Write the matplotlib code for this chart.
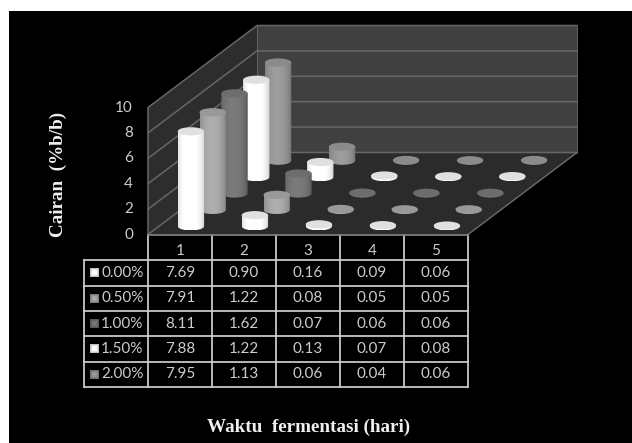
import numpy as np
import matplotlib
matplotlib.use("Agg")
import matplotlib.pyplot as plt
from matplotlib.patches import Polygon, Ellipse, Rectangle

days = ["1", "2", "3", "4", "5"]
series_names = ["0.00%", "0.50%", "1.00%", "1.50%", "2.00%"]
v000 = [7.69, 0.90, 0.16, 0.09, 0.06]
v050 = [7.91, 1.22, 0.08, 0.05, 0.05]
v100 = [8.11, 1.62, 0.07, 0.06, 0.06]
v150 = [7.88, 1.22, 0.13, 0.07, 0.08]
v200 = [7.95, 1.13, 0.06, 0.04, 0.06]
series_values = [v000, v050, v100, v150, v200]
axis_ticks = [0, 2, 4, 6, 8, 10]
series_tones = [0.97, 0.62, 0.44, 0.97, 0.56]

plt.rcParams["font.family"] = ["Lato", "DejaVu Sans"]
fig = plt.figure(figsize=(6.32, 4.43), dpi=100, facecolor="white")
ax = fig.add_axes([0, 0, 1, 1])
ax.set_xlim(0, 632)
ax.set_ylim(443, 0)
ax.axis("off")

# Oblique projection of (day, series depth, value) onto the canvas
X0, Y0 = 148.0, 234.5
CAT_DX, DEPTH_DX, DEPTH_DY = 64.0, 21.8, -16.4
UNIT, WALL_UNIT = 12.35, 12.7
RX, RY = 13.2, 4.1


def project(cat, depth, value=0.0, unit=UNIT):
    return X0 + cat * CAT_DX + depth * DEPTH_DX, Y0 + depth * DEPTH_DY - value * unit


def wall_pt(cat, depth, value=0.0):
    return project(cat, depth, value, WALL_UNIT)


ax.add_patch(Rectangle((9, 11), 623, 432, fc="black", ec="none", zorder=0))

n_cat, n_dep = len(days), len(series_names)
top = axis_ticks[-1]
ax.add_patch(Polygon([wall_pt(0, n_dep), wall_pt(n_cat, n_dep), wall_pt(n_cat, n_dep, top), wall_pt(0, n_dep, top)],
                     fc="#404040", ec="none", zorder=1))
ax.add_patch(Polygon([wall_pt(0, 0), wall_pt(0, n_dep), wall_pt(0, n_dep, top), wall_pt(0, 0, top)],
                     fc="#2d2d2d", ec="none", zorder=1))
ax.add_patch(Polygon([wall_pt(0, 0), wall_pt(n_cat, 0), wall_pt(n_cat, n_dep), wall_pt(0, n_dep)],
                     fc="#2b2b2b", ec="none", zorder=1))

grid_col = "#666666"
GRID_LW = 1.1
for t in axis_ticks:
    pts = [wall_pt(0, 0, t), wall_pt(0, n_dep, t), wall_pt(n_cat, n_dep, t)]
    ax.plot(*zip(*pts), color=grid_col, lw=GRID_LW, zorder=2)
ax.plot(*zip(wall_pt(0, 0), wall_pt(0, 0, top)), color=grid_col, lw=GRID_LW, zorder=2)
ax.plot(*zip(wall_pt(0, n_dep), wall_pt(0, n_dep, top)), color=grid_col, lw=GRID_LW * 0.6, zorder=2)
ax.plot(*zip(wall_pt(n_cat, n_dep), wall_pt(n_cat, n_dep, top)), color=grid_col, lw=GRID_LW * 0.6, zorder=2)
ax.plot(*zip(wall_pt(n_cat, 0), wall_pt(n_cat, n_dep)), color=grid_col, lw=GRID_LW, zorder=2)

# Horizontal shading across each cylinder body
u = np.linspace(0, 1, 64)
profile = 0.66 + 0.34 * np.clip(1 - ((u - 0.45) / 0.55) ** 2, 0, 1) ** 0.6


def draw_cylinder(cat, depth, value, tone, z):
    cx, by = project(cat, depth)
    ty = by - value * UNIT
    body = Polygon(
        [(cx - RX + 2 * RX * a, by + RY * np.sqrt(1 - (2 * a - 1) ** 2)) for a in np.linspace(0, 1, 40)]
        + [(cx + RX, ty), (cx - RX, ty)],
        closed=True, fc="none", ec="none", zorder=z,
    )
    ax.add_patch(body)
    if tone > 0.9:
        shade = 0.74 + 0.26 * (profile - 0.66) / 0.34
        shade = np.clip(shade * 1.03, 0, 1)
    else:
        shade = np.clip(profile * tone * 1.1, 0, 1)
    im = ax.imshow(shade[None, :], cmap="gray", vmin=0, vmax=1, aspect="auto",
                   extent=(cx - RX, cx + RX, by + RY, ty), zorder=z, interpolation="bilinear")
    im.set_clip_path(body)
    top_tone = 0.88 if tone > 0.9 else tone * 0.97
    ax.add_patch(Ellipse((cx, ty), 2 * RX, 2 * RY, fc=str(top_tone), ec="none", zorder=z + 0.1))


for d in reversed(range(n_dep)):
    for c in range(n_cat):
        draw_cylinder(c + 0.5, d + 0.5, series_values[d][c], series_tones[d], 10 + (n_dep - d) * 2)

# Tick labels along the front edge of the side wall
txt_col = "#cccccc"
LABEL_PT = 11
for t in axis_ticks:
    x, y = wall_pt(0, 0, t)
    ax.text(133, y, str(t), ha="right", va="center", fontsize=LABEL_PT, color=txt_col, zorder=50)

# Data table under the chart
tab_col = "#cfcfcf"
TAB_LW = 1.25
col_edges = [X0 + i * CAT_DX for i in range(n_cat + 1)]
row_edges = [260, 285.5, 311, 336, 362, 387]
HEAD_TOP, KEY_LEFT = 234.5, 84
for xe in col_edges:
    ax.plot([xe, xe], [HEAD_TOP, row_edges[-1]], color=tab_col, lw=TAB_LW, zorder=40)
ax.plot([KEY_LEFT, KEY_LEFT], [row_edges[0], row_edges[-1]], color=tab_col, lw=TAB_LW, zorder=40)
ax.plot([X0, col_edges[-1]], [HEAD_TOP, HEAD_TOP], color="#808080", lw=TAB_LW, zorder=40)
for ye in row_edges:
    ax.plot([KEY_LEFT, col_edges[-1]], [ye, ye], color=tab_col, lw=TAB_LW, zorder=40)

for c, day in enumerate(days):
    ax.text((col_edges[c] + col_edges[c + 1]) / 2, 251, day, ha="center", va="center",
            fontsize=LABEL_PT, color=txt_col, zorder=50)

# Legend keys: small squares, brighter in the middle
gy, gx = np.mgrid[-1:1:16j, -1:1:16j]
key_glow = 1 - 0.32 * np.maximum(np.abs(gx), np.abs(gy)) ** 2
for r, name in enumerate(series_names):
    ym = (row_edges[r] + row_edges[r + 1]) / 2
    ax.text(143.5, ym, name, ha="right", va="center", fontsize=LABEL_PT, color=txt_col, zorder=50)
    ax.imshow(np.clip(key_glow * series_tones[r] * 1.1, 0, 1), cmap="gray", vmin=0, vmax=1, aspect="auto",
              extent=(90, 99, ym + 4.5, ym - 4.5), zorder=50, interpolation="bilinear")
    for c in range(n_cat):
        ax.text((col_edges[c] + col_edges[c + 1]) / 2, ym, f"{series_values[r][c]:.2f}", ha="center", va="center",
                fontsize=LABEL_PT, color=txt_col, zorder=50)

# Axis titles
ax.text(58, 174, "Cairan  (%b/b)", rotation=90, ha="center", va="center", fontsize=13.8, fontweight="bold",
        family=["Liberation Serif"], color="#efefef", zorder=50)
ax.text(309, 427, "Waktu  fermentasi (hari)", ha="center", va="center", fontsize=13.8, fontweight="bold",
        family=["Liberation Serif"], color="#efefef", zorder=50)

ax.set_xlim(0, 632)
ax.set_ylim(443, 0)
fig.savefig("out.png", dpi=100, facecolor=fig.get_facecolor())
